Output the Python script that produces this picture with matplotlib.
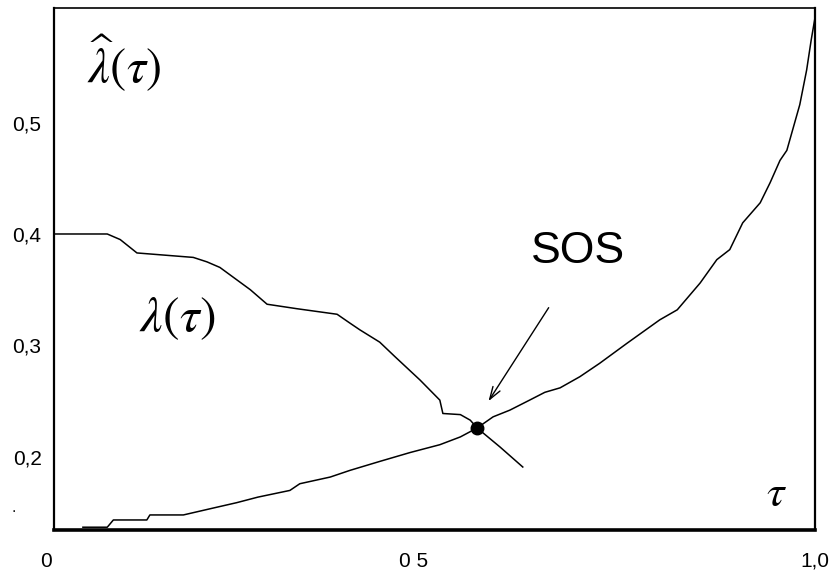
import matplotlib
matplotlib.use("Agg")
import matplotlib.pyplot as plt

plt.rcParams['mathtext.fontset'] = 'stix'

# observed intensity lambda(tau), falling curve
lam_t = [0.0, 0.070, 0.087, 0.109, 0.183, 0.201, 0.218, 0.258, 0.280, 0.319,
         0.372, 0.389, 0.402, 0.428, 0.448, 0.481, 0.507, 0.511, 0.534, 0.547,
         0.556, 0.586, 0.616]
lam_v = [0.400, 0.400, 0.395, 0.383, 0.379, 0.375, 0.370, 0.350, 0.337, 0.333,
         0.328, 0.320, 0.314, 0.303, 0.290, 0.269, 0.251, 0.239, 0.238, 0.233,
         0.226, 0.209, 0.191]

# estimated intensity lambda-hat(tau), rising curve
est_t = [0.038, 0.070, 0.078, 0.122, 0.126, 0.170, 0.208, 0.240, 0.268, 0.310,
         0.323, 0.363, 0.389, 0.428, 0.468, 0.507, 0.534, 0.556, 0.577, 0.599,
         0.625, 0.645, 0.665, 0.691, 0.717, 0.753, 0.796, 0.819, 0.849, 0.871,
         0.888, 0.905, 0.928, 0.941, 0.954, 0.963, 0.980, 0.989, 0.995, 1.0]
est_v = [0.137, 0.137, 0.1435, 0.1435, 0.148, 0.148, 0.154, 0.159, 0.164, 0.170,
         0.176, 0.182, 0.188, 0.196, 0.204, 0.211, 0.218, 0.226, 0.236, 0.242,
         0.251, 0.258, 0.262, 0.272, 0.284, 0.302, 0.323, 0.332, 0.356, 0.377,
         0.386, 0.410, 0.428, 0.446, 0.466, 0.475, 0.516, 0.547, 0.574, 0.594]

sos_t, sos_v = 0.556, 0.226

ytick_vals = [0.2, 0.3, 0.4, 0.5]
ytick_labels = ['0,2', '0,3', '0,4', '0,5']
xtick_pos = [-0.0105, 0.473, 1.0]
xtick_labels = ['0', '0 5', '1,0']

fig = plt.figure(figsize=(8.3, 5.75), dpi=100)
ax = fig.add_axes([54 / 830, 45 / 575, 761 / 830, 522 / 575])

ax.plot(lam_t, lam_v, color='black', lw=1.1)
ax.plot(est_t, est_v, color='black', lw=1.1)
ax.plot([sos_t], [sos_v], 'o', color='black', ms=9)

ax.set_xlim(0, 1.0)
ax.set_ylim(0.1345, 0.6027)

tick_font = dict(family='Liberation Sans', size=15)
ax.set_yticks(ytick_vals)
ax.set_yticklabels(ytick_labels, **tick_font)
ax.tick_params(axis='y', length=0, pad=9)
ax.set_xticks([])
for xp, lab in zip(xtick_pos, xtick_labels):
    ax.text(xp, -0.06, lab, transform=ax.get_xaxis_transform(),
            ha='center', va='center', **tick_font)

ax.spines['bottom'].set_linewidth(2.6)
ax.spines['left'].set_linewidth(1.6)
ax.spines['top'].set_linewidth(1.2)
ax.spines['right'].set_linewidth(1.6)

ax.text(0.093, 0.553, r'$\widehat{\lambda}(\tau)$', fontsize=35,
        ha='center', va='center')
ax.text(0.162, 0.325, r'$\lambda(\tau)$', fontsize=36,
        ha='center', va='center')
ax.text(0.950, 0.167, r'$\tau$', fontsize=32, ha='center', va='center')

ax.text(0.689, 0.384, 'SOS', fontsize=32, family='Liberation Sans',
        ha='center', va='center')
ax.annotate('', xy=(0.569, 0.248), xytext=(0.652, 0.336),
            arrowprops=dict(arrowstyle='->,head_length=0.9,head_width=0.3',
                            color='black', lw=1.0))

fig.text(14 / 830, 1 - 508 / 575, '.', fontsize=10, ha='center', va='center')

fig.savefig('out.png', dpi=100)
